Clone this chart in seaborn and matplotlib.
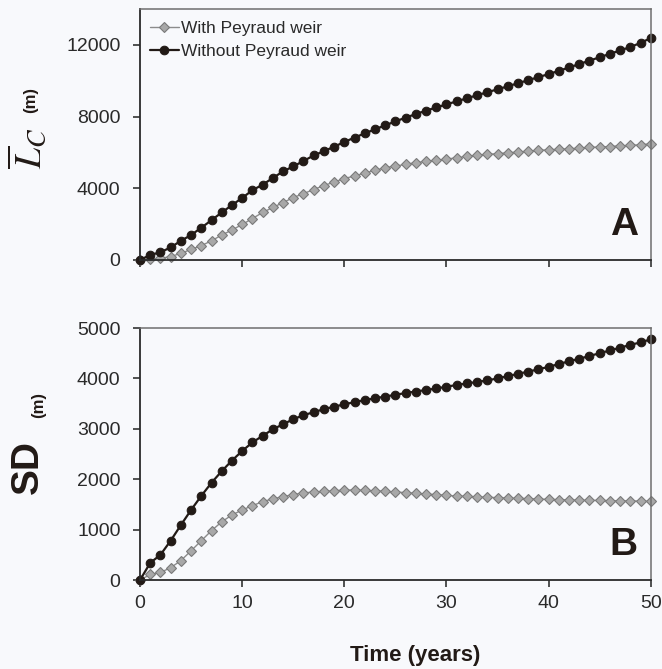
import matplotlib
matplotlib.use("Agg")
import matplotlib.pyplot as plt
import seaborn as sns
import pandas as pd

# Data (one value per year)
years = list(range(0, 51))

lc_with = [0, 40, 90, 190, 370, 590, 800, 1070, 1390, 1670, 1980, 2310, 2650, 2930, 3200,
           3480, 3700, 3930, 4150, 4350, 4540, 4690, 4850, 5000, 5150, 5240, 5330, 5430, 5500,
           5560, 5630, 5700, 5780, 5830, 5890, 5930, 5980, 6020, 6070, 6110, 6150, 6170, 6200,
           6240, 6280, 6300, 6330, 6370, 6390, 6430, 6480]
lc_without = [0, 280, 430, 700, 1070, 1390, 1800, 2220, 2650, 3060, 3460, 3890, 4200, 4570,
              4940, 5220, 5520, 5830, 6070, 6320, 6580, 6830, 7060, 7290, 7510, 7730, 7940,
              8140, 8330, 8510, 8680, 8850, 9020, 9190, 9360, 9520, 9690, 9860, 10030, 10200,
              10370, 10550, 10740, 10930, 11120, 11310, 11500, 11690, 11880, 12110, 12380]

sd_with = [0, 110, 150, 245, 385, 580, 780, 980, 1155, 1290, 1390, 1475, 1555, 1610, 1655,
           1695, 1730, 1745, 1760, 1770, 1785, 1785, 1780, 1770, 1760, 1745, 1735, 1720, 1705,
           1695, 1680, 1665, 1660, 1650, 1640, 1635, 1625, 1620, 1615, 1605, 1600, 1595, 1590,
           1585, 1580, 1580, 1575, 1570, 1570, 1565, 1560]
sd_without = [0, 340, 500, 780, 1090, 1390, 1670, 1930, 2160, 2370, 2560, 2730, 2860, 2990,
              3090, 3190, 3270, 3330, 3390, 3440, 3485, 3530, 3570, 3605, 3640, 3675, 3710,
              3740, 3770, 3800, 3835, 3870, 3900, 3930, 3960, 4000, 4045, 4090, 4135, 4180,
              4230, 4285, 4340, 4390, 4445, 4500, 4555, 4610, 4665, 4715, 4775]

labels = ["With Peyraud weir", "Without Peyraud weir"]

df = pd.DataFrame({"year": years, "lc_with": lc_with, "lc_without": lc_without,
                   "sd_with": sd_with, "sd_without": sd_without})

bg = "#f8f9fc"
ink = "#221a16"
sns.set_style("ticks")
plt.rcParams["font.family"] = ["Liberation Sans", "DejaVu Sans"]
plt.rcParams["mathtext.fontset"] = "stix"

fig = plt.figure(figsize=(6.62, 6.69), dpi=100, facecolor=bg)
ax1 = fig.add_axes([0.2115, 0.6114, 0.7715, 0.3751])
ax2 = fig.add_axes([0.2115, 0.1330, 0.7715, 0.3767])

gray_kw = dict(color="#8c8c8c", marker="D", markersize=5, markerfacecolor="#a8a8a8",
               markeredgecolor="#7a7a7a", markeredgewidth=0.8, linewidth=1.0)
black_kw = dict(color=ink, marker="o", markersize=6.2, markerfacecolor=ink,
                markeredgecolor=ink, linewidth=1.6)

# Panel A
sns.lineplot(data=df, x="year", y="lc_with", ax=ax1, label=labels[0], **gray_kw)
sns.lineplot(data=df, x="year", y="lc_without", ax=ax1, label=labels[1], **black_kw)
# Panel B
sns.lineplot(data=df, x="year", y="sd_with", ax=ax2, legend=False, **gray_kw)
sns.lineplot(data=df, x="year", y="sd_without", ax=ax2, legend=False, **black_kw)

for ax in (ax1, ax2):
    ax.set_facecolor(bg)
    ax.set_xlim(0, 50)
    ax.set_xticks([0, 10, 20, 30, 40, 50])
    ax.set_xlabel("")
    ax.set_ylabel("")
    ax.tick_params(direction="out", length=5, width=1.2, color="#333333",
                   labelsize=14, labelcolor="#2a2a2a")
    ax.tick_params(axis="y", pad=9)
    ax.tick_params(axis="x", pad=6)
    for side in ["left", "bottom"]:
        ax.spines[side].set_color("#2a2a2a")
        ax.spines[side].set_linewidth(1.3)
    for side in ["top", "right"]:
        ax.spines[side].set_visible(True)
        ax.spines[side].set_color("#6e6e6e")
        ax.spines[side].set_linewidth(1.1)
    for line in ax.lines:
        line.set_clip_on(False)

ax1.set_ylim(0, 14000)
ax1.set_yticks([0, 4000, 8000, 12000])
ax1.tick_params(axis="x", labelbottom=False)
ax2.set_ylim(0, 5000)
ax2.set_yticks([0, 1000, 2000, 3000, 4000, 5000])

leg = ax1.legend(loc="upper left", bbox_to_anchor=(-0.005, 1.0), frameon=False,
                 fontsize=12.5, handlelength=1.7, handletextpad=0.1,
                 labelspacing=0.45, borderaxespad=0.3)
for t in leg.get_texts():
    t.set_color("#2a2a2a")

ax1.text(0.975, 0.068, "A", transform=ax1.transAxes, ha="right", va="bottom",
         fontsize=28, fontweight="bold", color=ink)
ax2.text(0.975, 0.067, "B", transform=ax2.transAxes, ha="right", va="bottom",
         fontsize=28, fontweight="bold", color=ink)

# axis titles
fig.text(28 / 662, 1 - 148 / 669, r"$\overline{L}_{C}$", rotation=90, ha="center",
         va="center", fontsize=27, color=ink)
fig.text(31 / 662, 1 - 100 / 669, "(m)", rotation=90, ha="center", va="center",
         fontsize=12, fontweight="bold", color=ink)
fig.text(28 / 662, 1 - 467 / 669, "SD", rotation=90, ha="center", va="center",
         fontsize=28, fontweight="bold", color=ink)
fig.text(39 / 662, 1 - 405 / 669, "(m)", rotation=90, ha="center", va="center",
         fontsize=12, fontweight="bold", color=ink)
fig.text(415 / 662, 1 - 655 / 669, "Time (years)", ha="center", va="center",
         fontsize=16, fontweight="bold", color=ink)

fig.savefig("out.png", dpi=100, facecolor=bg)
